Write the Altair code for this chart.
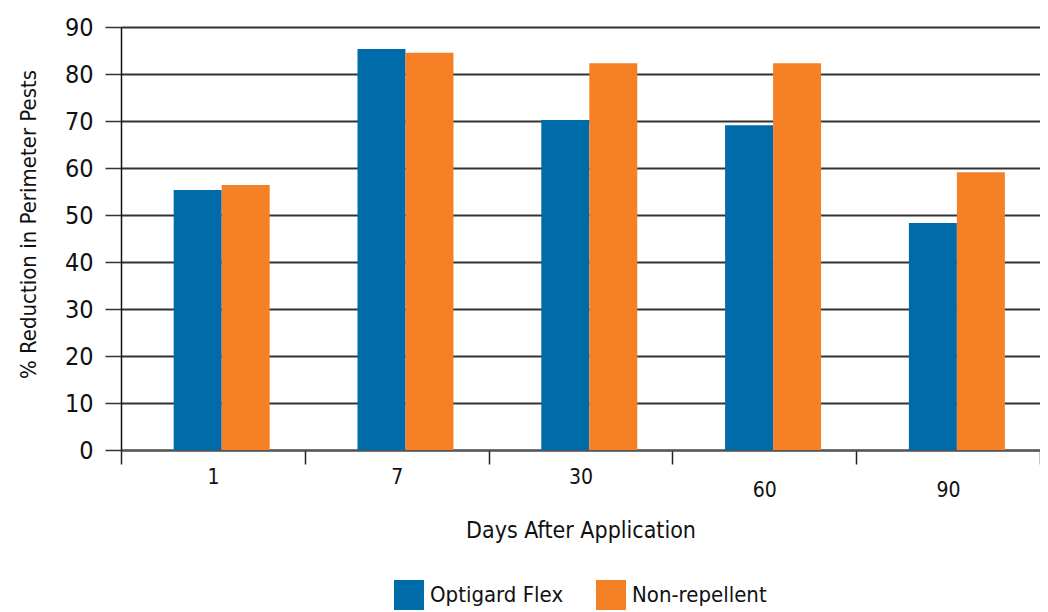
import altair as alt
import pandas as pd

days = ["1", "7", "30", "60", "90"]
series = ["Optigard Flex", "Non-repellent"]
optigard = [55.3, 85.3, 70.2, 69.1, 48.3]
nonrep = [56.4, 84.5, 82.3, 82.3, 59.1]
colors = ["#006BA9", "#F58026"]
y_ticks = [0, 10, 20, 30, 40, 50, 60, 70, 80, 90]

rows = []
for d, a, b in zip(days, optigard, nonrep):
    rows.append({"Day": d, "Series": series[0], "Value": a})
    rows.append({"Day": d, "Series": series[1], "Value": b})
df = pd.DataFrame(rows)

FONT = "'DejaVu Sans Condensed', 'Liberation Sans Narrow', 'Roboto Condensed', Roboto, sans-serif"

chart = alt.Chart(df).mark_bar().encode(
    x=alt.X(
        "Day:N", sort=days,
        scale=alt.Scale(paddingInner=0, paddingOuter=0),
        axis=alt.Axis(
            title="Days After Application", labelAngle=0, tickBand="extent",
            tickSize=14, tickColor="#222", tickWidth=1.5,
            domainColor="#555", domainWidth=2,
            labelFont=FONT, labelFontSize=21, labelColor="#111",
            labelPadding={"condition": {"test": "datum.value == '60' || datum.value == '90'", "value": 15}, "value": 2},
            titleFont=FONT, titleFontSize=23, titleFontWeight="normal", titleColor="#111",
            titlePadding=19, grid=False,
        ),
    ),
    xOffset=alt.XOffset("Series:N", sort=series,
                        scale=alt.Scale(paddingInner=0, paddingOuter=0.915, align=0.6)),
    y=alt.Y(
        "Value:Q",
        scale=alt.Scale(domain=[0, 90], nice=False),
        axis=alt.Axis(
            values=y_ticks, title="% Reduction in Perimeter Pests",
            grid=True, gridColor="#333", gridWidth=1.8,
            tickSize=16, tickColor="#333", tickWidth=1.5,
            domainColor="#111", domainWidth=1.5,
            labelFont=FONT, labelFontSize=25, labelColor="#111", labelPadding=12,
            titleFont=FONT, titleFontSize=22, titleFontWeight="normal", titleColor="#111",
            titleX=-93, titleY=197, titleBaseline="middle",
        ),
    ),
    color=alt.Color(
        "Series:N", sort=series,
        scale=alt.Scale(domain=series, range=colors),
        legend=alt.Legend(
            title=None, orient="none", direction="horizontal",
            legendX=273, legendY=553,
            symbolType="square", symbolSize=900, symbolStrokeWidth=0, symbolOpacity=1,
            labelFont=FONT, labelFontSize=22, labelColor="#111", labelOffset=6,
            columnPadding=32,
        ),
    ),
).properties(
    width=919, height=423,
    padding={"left": 113, "top": 19, "right": 0, "bottom": 160},
    autosize=alt.AutoSizeParams(type="none"),
).configure_view(stroke=None)

chart.save("out.html", embed_options={"renderer": "svg", "actions": False})
